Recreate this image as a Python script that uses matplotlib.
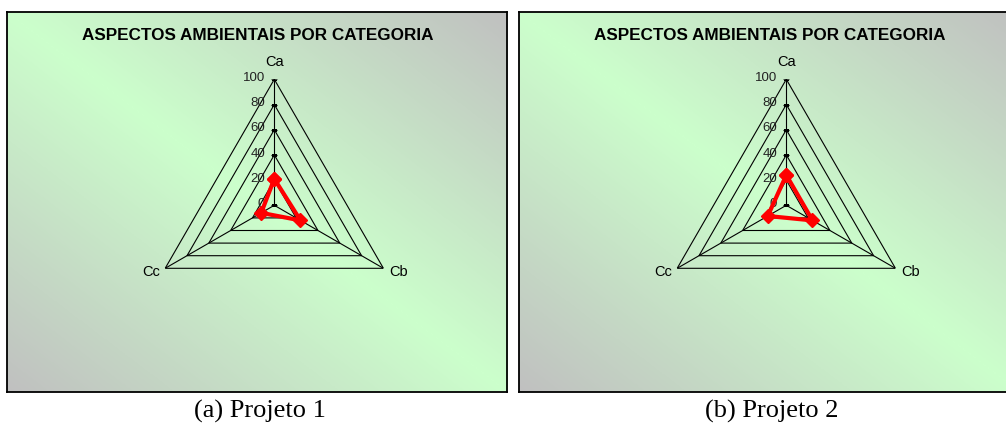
import matplotlib
matplotlib.use("Agg")
import matplotlib.pyplot as plt
import numpy as np
from matplotlib.colors import LinearSegmentedColormap

# dados
categorias = ["Ca", "Cb", "Cc"]
projeto1 = [21, 24, 12]
projeto2 = [24, 24, 17]
aneis = [20, 40, 60, 80, 100]
rotulos_r = [0, 20, 40, 60, 80, 100]
titulo = "ASPECTOS AMBIENTAIS POR CATEGORIA"
legendas = ["(a) Projeto 1", "(b) Projeto 2"]

W, H = 1006, 426
fig = plt.figure(figsize=(W / 100, H / 100), dpi=100)
fig.patch.set_facecolor("white")

cmap = LinearSegmentedColormap.from_list("fundo", ["#CCFFCC", "#C0C0C0"])
u, v = np.meshgrid(np.linspace(0, 1, 400), np.linspace(0, 1, 300))
grad = np.abs(u - v)

angulos = np.linspace(0, 2 * np.pi, len(categorias), endpoint=False)
ang_f = np.append(angulos, angulos[0])
# deslocamento dos nomes das categorias (pontos)
desloc = [(0, 12.7), (11.2, -2.4), (-10.4, -2.4)]


def painel(x0, valores, legenda):
    # moldura com fundo em degrade
    bg = fig.add_axes([x0 / W, 34 / H, 500 / W, 380 / H])
    bg.imshow(grad, cmap=cmap, extent=[0, 1, 0, 1], aspect="auto",
              origin="upper", interpolation="bilinear")
    bg.set_xticks([])
    bg.set_yticks([])
    for s in bg.spines.values():
        s.set_color("black")
        s.set_linewidth(1.3)

    fig.text((x0 + 251) / W, 1 - 36 / H, titulo, ha="center", va="center",
             fontsize=12.3, fontweight="bold", family="Liberation Sans")

    cx, cy, R = x0 + 267.3, 205.3, 126
    ax = fig.add_axes([(cx - R) / W, (H - cy - R) / H, 2 * R / W, 2 * R / H],
                      projection="polar")
    ax.set_facecolor("none")
    ax.set_theta_offset(np.pi / 2)
    ax.set_theta_direction(-1)
    ax.set_ylim(0, 100)
    ax.grid(False)
    ax.spines["polar"].set_visible(False)
    ax.set_yticks([])
    ax.set_xticks([])

    for r in aneis:
        ax.plot(ang_f, [r] * len(ang_f), color="black", lw=0.8)
    for a in angulos:
        ax.plot([a, a], [0, 100], color="black", lw=0.8)
    ax.plot([0] * len(rotulos_r), rotulos_r, ls="none", marker="_",
            ms=4, mew=0.8, color="black")
    for r in rotulos_r:
        ax.annotate(str(r), xy=(0, r), xytext=(-6.5, 1), textcoords="offset points",
                    ha="right", va="center", fontsize=9.5, family="Liberation Sans",
                    color="#222222")
    for a, nome, d in zip(angulos, categorias, desloc):
        ax.annotate(nome, xy=(a, 100), xytext=d, textcoords="offset points",
                    ha="center", va="center", fontsize=10.5,
                    family="Liberation Sans", annotation_clip=False)

    vals = list(valores) + [valores[0]]
    ax.plot(ang_f, vals, color="#FF0000", lw=3, marker="D", ms=7,
            mec="#FF0000", mfc="#FF0000", zorder=5)

    fig.text((x0 + 253) / W, 8 / H, legenda, ha="center", va="baseline",
             fontsize=19, family="Liberation Serif")


painel(7, projeto1, legendas[0])
painel(519, projeto2, legendas[1])

plt.savefig("out.png", dpi=100)
